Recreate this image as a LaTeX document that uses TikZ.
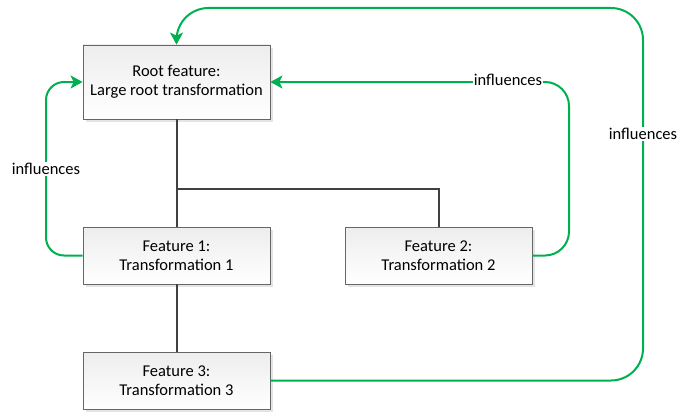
\documentclass[tikz,border=0pt]{standalone}
\usepackage{fontspec}
\setmainfont{Carlito}
\usetikzlibrary{arrows.meta, shadows}

\definecolor{infgreen}{HTML}{00B050}
\definecolor{treegray}{HTML}{404040}

\begin{document}
\begin{tikzpicture}[x=1pt, y=-1pt, >={Stealth[length=12pt, width=13pt, inset=3pt]},
    feat/.style={draw=gray!80!black, line width=0.8pt, top color=gray!14, bottom color=white,
        minimum width=187pt, minimum height=57pt, align=center,
        font=\fontsize{16.5}{19.5}\selectfont,
        drop shadow={shadow xshift=3pt, shadow yshift=-3pt, fill=gray!35, opacity=0.6}},
    tree/.style={draw=treegray, line width=2pt},
    infl/.style={draw=infgreen, line width=2pt},
    lbl/.style={fill=white, inner sep=1pt, font=\fontsize{16.5}{19}\selectfont}]
    \useasboundingbox (0,0) rectangle (692,412);

    \node[feat, minimum height=74pt] (root) at (176.5,82) {Root feature:\\Large root transformation};
    \node[feat] (f1) at (176.5,255.5) {Feature 1:\\Transformation 1};
    \node[feat] (f2) at (438.5,255.5) {Feature 2:\\Transformation 2};
    \node[feat] (f3) at (176.5,380.5) {Feature 3:\\Transformation 3};

    \coordinate (split) at (176.5,189);
    \draw[tree] (root.south) -- (f1.north);
    \draw[tree] (split) -| (f2.north);
    \draw[tree] (f1.south) -- (f3.north);

    \draw[infl, ->, rounded corners=18pt] (f1.west) -- (46,255.5) -- (46,82) -- (root.west);
    \draw[infl, ->, rounded corners=24pt] (f2.east) -- (569,255.5) -- (569,82) -- (root.east);
    \draw[infl, ->, rounded corners=32pt] (f3.east) -- (643,380.5) -- (643,8) -- (176.5,8) -- (root.north);

    \node[lbl] (l1) at (46,169) {influences};
    \node[lbl] (l2) at (508,80) {influences};
    \node[lbl] (l3) at (643,134) {influences};
\end{tikzpicture}
\end{document}
